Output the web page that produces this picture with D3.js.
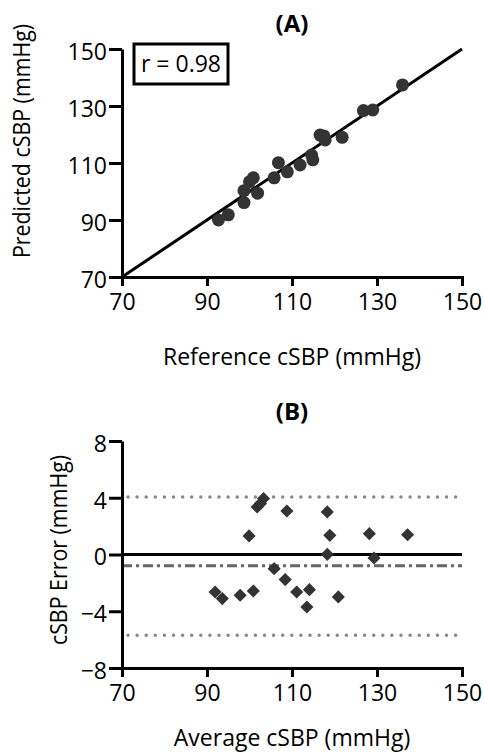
<!DOCTYPE html>
<html lang="en">
<head>
    <meta charset="UTF-8">
    <title>cSBP</title>
    <style>
        * { margin: 0; padding: 0; }
        html, body { overflow: hidden; background: #fff; }
        text { font-family: "Open Sans", "Noto Sans", sans-serif; }
    </style>
</head>
<body>
    <div id="chart"></div>
    <script src="https://cdn.jsdelivr.net/npm/d3@7"></script>
    <script>
        // (A) reference vs predicted
        const refX = [92.7, 95.0, 98.7, 98.7, 100.0, 100.9, 101.9, 105.8, 106.8, 108.9, 111.9, 114.6, 114.9, 116.6, 117.8, 117.5, 121.8, 126.8, 129.0, 136.0]
        const predY = [90.0, 91.8, 96.1, 100.3, 103.4, 104.8, 99.4, 104.8, 110.1, 106.9, 109.3, 112.8, 111.1, 119.8, 118.1, 119.5, 119.0, 128.4, 128.6, 137.4]
        // (B) Bland-Altman
        const avgX = [91.9, 93.6, 97.8, 100.9, 99.9, 101.8, 103.3, 102.6, 105.8, 108.8, 108.4, 111.1, 114.1, 113.5, 118.3, 118.9, 118.3, 120.9, 128.2, 129.3, 137.2]
        const errY = [-2.64, -3.11, -2.87, -2.57, 1.31, 3.35, 3.94, 3.6, -1.0, 3.07, -1.77, -2.64, -2.48, -3.70, 3.0, 1.35, 0.01, -2.99, 1.47, -0.25, 1.39]
        const bias = -0.8
        const limits = [4.05, -5.7]

        const xTicks = [70, 90, 110, 130, 150]
        const yTicksA = [70, 90, 110, 130, 150]
        const yTicksB = [-8, -4, 0, 4, 8]

        const width = 484
        const height = 753
        const svg = d3.select('#chart')
            .append('svg')
            .attr('width', width)
            .attr('height', height)

        const x = d3.scaleLinear().domain([70, 150]).range([122, 462])
        const yA = d3.scaleLinear().domain([70, 150]).range([277, 49])
        const yB = d3.scaleLinear().domain([-8, 8]).range([668, 441])

        function styleAxis(g) {
            g.select('.domain').attr('stroke-width', 3)
            g.selectAll('.tick line').attr('stroke-width', 3)
            g.selectAll('.tick text').style('font-size', '23px').attr('fill', '#000')
        }

        function drawAxes(y, yTicks, yBottom) {
            svg.append('g')
                .attr('transform', `translate(0,${yBottom})`)
                .call(d3.axisBottom(x).tickValues(xTicks).tickSize(9).tickSizeOuter(9).tickPadding(8))
                .call(styleAxis)
            svg.append('g')
                .attr('transform', 'translate(122,0)')
                .call(d3.axisLeft(y).tickValues(yTicks).tickSize(13).tickSizeOuter(0).tickPadding(2))
                .call(styleAxis)
                .call(g => g.selectAll('.tick text').attr('dy', '0.45em'))
        }

        function title(txt, tx, ty, rot, bold) {
            svg.append('text')
                .attr('transform', `translate(${tx},${ty})` + (rot ? ' rotate(-90) scale(0.93,1)' : ''))
                .attr('text-anchor', 'middle')
                .style('font-size', bold ? '24px' : '23px')
                .style('font-weight', bold ? 'bold' : 'normal')
                .text(txt)
        }

        // ---- (A)
        svg.append('line')
            .attr('x1', x(70)).attr('y1', yA(70))
            .attr('x2', x(150)).attr('y2', yA(150))
            .attr('stroke', '#000').attr('stroke-width', 3)

        svg.selectAll('circle.a')
            .data(refX)
            .join('circle')
            .attr('class', 'a')
            .attr('cx', d => x(d))
            .attr('cy', (d, i) => yA(predY[i]))
            .attr('r', 6.5)
            .attr('fill', '#333')

        drawAxes(yA, yTicksA, 277)

        svg.append('rect')
            .attr('x', 134).attr('y', 44)
            .attr('width', 94).attr('height', 40)
            .attr('fill', '#fff').attr('stroke', '#000').attr('stroke-width', 3)
        svg.append('text')
            .attr('x', 181).attr('y', 72)
            .attr('text-anchor', 'middle')
            .style('font-size', '23px')
            .text('r = 0.98')

        title('(A)', 292, 32, false, true)
        title('Reference cSBP (mmHg)', 292, 365, false, false)
        title('Predicted cSBP (mmHg)', 30, 141, true, false)

        // ---- (B)
        svg.selectAll('line.lim')
            .data(limits)
            .join('line')
            .attr('class', 'lim')
            .attr('x1', x(70) + 6).attr('x2', x(150))
            .attr('y1', d => yB(d)).attr('y2', d => yB(d))
            .attr('stroke', '#888').attr('stroke-width', 3.5)
            .attr('stroke-linecap', 'round')
            .attr('stroke-dasharray', '0 9.1')

        svg.append('line')
            .attr('x1', x(70)).attr('x2', x(150))
            .attr('y1', yB(bias)).attr('y2', yB(bias))
            .attr('stroke', '#666').attr('stroke-width', 3)
            .attr('stroke-dasharray', '10 4 3 4')

        svg.append('line')
            .attr('x1', x(70)).attr('x2', x(150))
            .attr('y1', yB(0)).attr('y2', yB(0))
            .attr('stroke', '#000').attr('stroke-width', 3)

        const diamond = d3.symbol().type(d3.symbolDiamond2).size(110)
        svg.selectAll('path.b')
            .data(avgX)
            .join('path')
            .attr('class', 'b')
            .attr('transform', (d, i) => `translate(${x(d)},${yB(errY[i])})`)
            .attr('d', diamond)
            .attr('fill', '#333')

        drawAxes(yB, yTicksB, 668)

        title('(B)', 292, 420, false, true)
        title('Average cSBP (mmHg)', 292, 746, false, false)
        title('cSBP Error (mmHg)', 67, 550, true, false)
    </script>
</body>
</html>
